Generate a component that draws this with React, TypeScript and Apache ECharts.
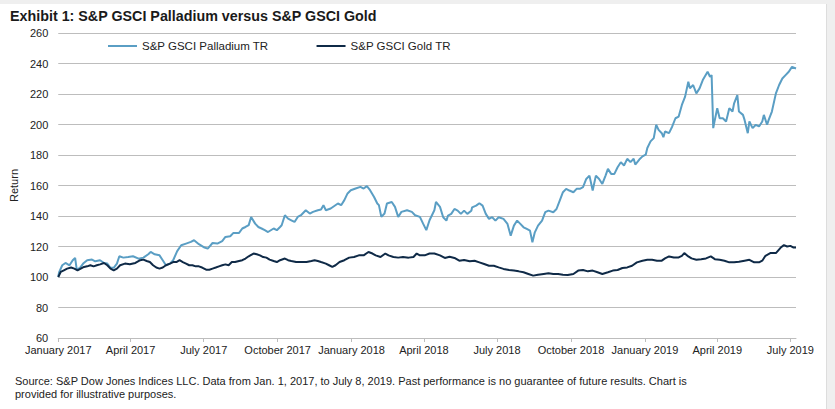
import React, { useEffect, useRef } from "react";
import * as echarts from "echarts";

const titleText = "Exhibit 1: S&P GSCI Palladium versus S&P GSCI Gold";
const sourceLines = [
  "Source: S&P Dow Jones Indices LLC. Data from Jan. 1, 2017, to July 8, 2019. Past performance is no guarantee of future results. Chart is",
  "provided for illustrative purposes.",
];
const seriesNames = ["S&P GSCI Palladium TR", "S&P GSCI Gold TR"];

// x axis: days since 2017-01-01
const startDate = "2017-01-01";
const endDate = "2019-07-08";
const tickDates = [
  "2017-01-01", "2017-04-01", "2017-07-01", "2017-10-01", "2018-01-01", "2018-04-01",
  "2018-07-01", "2018-10-01", "2019-01-01", "2019-04-01", "2019-07-01",
];
const tickLabels = [
  "January 2017", "April 2017", "July 2017", "October 2017", "January 2018", "April 2018",
  "July 2018", "October 2018", "January 2019", "April 2019", "July 2019",
];

const palladiumDays = [
  0, 1, 5, 9, 14, 18, 21, 23, 27, 31,
  36, 42, 46, 52, 57, 61, 65, 69, 73, 76,
  81, 87, 93, 100, 106, 112, 115, 120, 126, 130,
  134, 139, 143, 148, 153, 159, 165, 169, 175, 182,
  186, 192, 198, 204, 208, 214, 218, 225, 229, 233,
  237, 240, 245, 249, 253, 257, 261, 268, 272, 276,
  278, 282, 286, 290, 294, 298, 302, 308, 313, 317,
  323, 327, 330, 333, 339, 348, 352, 356, 360, 364,
  370, 376, 380, 384, 388, 393, 397, 399, 402, 406,
  409, 415, 419, 423, 427, 434, 440, 444, 450, 454,
  458, 462, 468, 470, 475, 479, 483, 485, 489, 493,
  497, 501, 505, 509, 514, 515, 520, 524, 528, 532,
  536, 540, 544, 548, 554, 559, 563, 567, 571, 575,
  579, 583, 587, 590, 593, 597, 602, 606, 610, 616,
  620, 624, 628, 632, 636, 641, 645, 649, 653, 657,
  661, 665, 669, 673, 677, 681, 684, 688, 692, 696,
  700, 704, 708, 712, 716, 718, 723, 727, 731, 733,
  737, 741, 744, 747, 751, 753, 755, 760, 764, 768,
  772, 776, 780, 784, 786, 790, 794, 798, 802, 808,
  811, 813, 815, 817, 820, 823, 827, 831, 835, 839,
  841, 845, 847, 852, 854, 858, 860, 864, 868, 872,
  876, 878, 882, 884, 888, 893, 897, 901, 905, 909,
  913, 918,
];
const palladiumValues = [
  100, 103, 107.7, 109.2, 107.7, 111, 112.5, 104.8, 106, 108.8,
  111, 111.4, 110.3, 111, 109.2, 108.8, 106, 106, 108.8, 113.6,
  112.7, 113.1, 113.6, 112, 112.7, 114.9, 116.4, 114.9, 114.2, 111,
  107.7, 108.8, 111, 117, 120.8, 121.9, 123, 124.1, 121.5, 119.3,
  118.6, 122.3, 121.9, 123.6, 126.3, 126.7, 128.9, 128.9, 131.8, 132.8,
  134, 139.4, 135, 132.8, 131.8, 130.7, 129.5, 131.8, 130.7, 132.8,
  133.9, 140.5, 138.3, 137.2, 136.1, 139.4, 140.5, 143.8, 141.6, 142.7,
  143.8, 144.2, 147.1, 143.8, 144.9, 148.2, 147.1, 150.4, 154.8, 156.9,
  158, 159.1, 158, 159.6, 156.9, 152.5, 148.2, 147.1, 139.4, 141.6,
  148.2, 149.2, 146, 139.4, 142.7, 143.8, 142.7, 140.5, 139.4, 135,
  130.7, 137.2, 143.8, 149.2, 146, 139.2, 137, 140.3, 141.4, 144.6,
  143.5, 141.4, 143.5, 141.4, 143.5, 145.7, 146.8, 148.4, 146.8, 141.4,
  138.1, 139.2, 137, 139.2, 138.1, 134.8, 127.1, 133.7, 137, 134.8,
  132.6, 131.5, 130.4, 122.8, 129.3, 133.7, 137, 142.5, 143.5, 142.5,
  144.6, 150.1, 155.6, 157.8, 156.7, 155.6, 157.8, 157.8, 158.9, 164.3,
  166.5, 156.7, 166.5, 164.3, 161, 166.5, 170.9, 167.6, 167.6, 172,
  175.3, 173.1, 177.5, 175.3, 177.5, 173.7, 177, 179.1, 180.2, 184.6,
  188.9, 191.1, 199.8, 196.5, 194.3, 191.7, 195.4, 194.3, 198.7, 204.1,
  205.2, 212.8, 218.3, 228, 223.7, 225.9, 220.4, 223.7, 229.1, 234.6,
  231.3, 232.4, 197.6, 203, 210.7, 204.1, 204.1, 202, 210.7, 208.5,
  213.9, 219.3, 208.5, 206.3, 203, 194.3, 202, 197.6, 199.8, 198.7,
  202, 206.3, 199.8, 203, 208.5, 220.4, 225.9, 230.2, 232.4, 234.6,
  237.8, 236.7,
];

const goldDays = [
  0, 3, 7, 11, 16, 20, 24, 28, 32, 36,
  40, 44, 48, 52, 57, 61, 65, 69, 73, 77,
  83, 89, 96, 102, 106, 110, 114, 118, 122, 126,
  130, 134, 139, 143, 147, 151, 155, 159, 163, 167,
  171, 175, 179, 184, 188, 192, 196, 200, 204, 208,
  212, 216, 220, 225, 229, 233, 237, 239, 243, 247,
  251, 255, 259, 263, 268, 272, 276, 282, 286, 290,
  296, 302, 309, 315, 319, 323, 327, 333, 337, 341,
  345, 350, 356, 362, 368, 374, 380, 386, 391, 395,
  401, 407, 411, 417, 423, 429, 436, 442, 446, 450,
  456, 462, 468, 475, 481, 487, 493, 499, 505, 512,
  518, 524, 530, 536, 542, 548, 554, 561, 567, 573,
  579, 585, 591, 597, 604, 610, 616, 622, 628, 634,
  641, 647, 653, 659, 665, 671, 677, 684, 690, 696,
  702, 708, 714, 720, 727, 733, 739, 745, 751, 755,
  760, 766, 772, 776, 779, 784, 788, 794, 800, 806,
  812, 817, 823, 829, 835, 841, 847, 854, 860, 866,
  872, 876, 880, 886, 893, 899, 903, 907, 911, 915,
  918,
];
const goldValues = [
  100, 103.3, 104.4, 105.5, 106.2, 105.5, 104.4, 105.5, 106.6, 107,
  107.7, 107, 107.7, 108.3, 109.2, 107.7, 105.5, 104.4, 105.5, 107.7,
  108.8, 108.3, 109.2, 111, 111.4, 110.5, 109.8, 107.7, 106.2, 105.5,
  106.2, 107.7, 108.8, 109.8, 109.8, 111, 109.8, 108.8, 107.7, 107.7,
  107, 107, 106.2, 104.8, 104.8, 105.5, 106.2, 107, 107.7, 108.3,
  107.7, 109.8, 109.8, 110.5, 111, 112.1, 113.6, 114.2, 115.4, 114.9,
  114.2, 113.1, 112.7, 111.4, 110.5, 109.8, 111, 112.1, 111, 110.5,
  109.8, 109.8, 109.8, 110.5, 111, 110.5, 109.8, 108.8, 107.7, 106.6,
  107.7, 109.8, 111, 112.7, 113.1, 114.2, 114.2, 116.4, 115.4, 114.2,
  113.1, 115.4, 114.2, 113.1, 112.7, 113.1, 112.7, 113.1, 115.4, 114.2,
  114.2, 115.4, 115.4, 114.2, 112.5, 113.3, 112.5, 110.7, 111.2, 110.3,
  110.7, 109.6, 108.5, 107.4, 107.4, 106.3, 105.3, 104.6, 104.2, 103.7,
  103.1, 102, 100.9, 101.5, 102, 102.4, 102, 102, 101.5, 101.3,
  102, 104.2, 104.6, 103.7, 104.2, 103.1, 102, 103.1, 104.2, 104.6,
  105.9, 106.3, 107.4, 109.6, 110.7, 111.3, 111.3, 110.7, 110.7, 112.2,
  113.5, 112.8, 112.8, 113.9, 115.7, 113.5, 112.2, 111.3, 111.7, 112.2,
  113.5, 111.7, 111.3, 110.7, 109.6, 109.6, 110, 110.7, 111.3, 109.6,
  109.6, 110.7, 113.9, 115.7, 115.7, 119.3, 120.9, 120, 120.4, 119.3,
  119.3,
];

const yMin = 60;
const yMax = 260;
const yStep = 20;

const FONT = "'Liberation Sans', Arial, Helvetica, sans-serif";

function dayOf(dateStr: string): number {
  const [y, m, d] = dateStr.split("-").map(Number);
  const [y0, m0, d0] = startDate.split("-").map(Number);
  return Math.round((Date.UTC(y, m - 1, d) - Date.UTC(y0, m0 - 1, d0)) / 86400000);
}

export default function App() {
  const ref = useRef<HTMLDivElement>(null);

  useEffect(() => {
    if (!ref.current) return;
    const chart = echarts.init(ref.current, undefined, { renderer: "svg" });
    const tickDays = tickDates.map(dayOf);
    const labelByDay = new Map<number, string>();
    tickDays.forEach((d, i) => labelByDay.set(d, tickLabels[i]));

    chart.setOption({
      animation: false,
      backgroundColor: "transparent",
      title: {
        text: titleText,
        left: 10,
        top: 9,
        padding: 0,
        textStyle: { fontFamily: FONT, fontSize: 14.3, fontWeight: "bold", color: "#1a1a1a" },
      },
      legend: {
        left: 108,
        top: 40,
        padding: 0,
        itemGap: 48,
        itemWidth: 29,
        itemHeight: 2,
        icon: "rect",
        textStyle: { fontFamily: FONT, fontSize: 11.5, color: "#222" },
        data: seriesNames,
      },
      grid: { left: 49, top: 33, width: 747, height: 305, containLabel: false },
      xAxis: {
        type: "value",
        min: dayOf(startDate),
        max: dayOf(endDate),
        splitLine: { show: false },
        axisLine: { show: true, lineStyle: { color: "#bdbdbd", width: 1 } },
        axisTick: { show: true, length: 4, lineStyle: { color: "#bdbdbd" }, customValues: tickDays },
        axisLabel: {
          customValues: tickDays,
          margin: 6,
          fontFamily: FONT,
          fontSize: 11,
          color: "#222",
          formatter: (v: number) => labelByDay.get(Math.round(v)) ?? "",
        },
      },
      yAxis: {
        type: "value",
        min: yMin,
        max: yMax,
        interval: yStep,
        name: "Return",
        nameLocation: "middle",
        nameRotate: 90,
        nameGap: 32,
        nameTextStyle: { fontFamily: FONT, fontSize: 11, color: "#222" },
        axisLine: { show: false },
        axisTick: { show: false },
        axisLabel: { margin: 10, fontFamily: FONT, fontSize: 11, color: "#222" },
        splitLine: { show: true, lineStyle: { color: "#bdbdbd", width: 1 } },
      },
      series: [
        {
          name: seriesNames[0],
          type: "line",
          showSymbol: false,
          symbol: "none",
          color: "#5a9ec4",
          lineStyle: { width: 2, color: "#5a9ec4" },
          data: palladiumDays.map((d, i) => [d, palladiumValues[i]]),
        },
        {
          name: seriesNames[1],
          type: "line",
          showSymbol: false,
          symbol: "none",
          color: "#0f2a47",
          lineStyle: { width: 2, color: "#0f2a47" },
          data: goldDays.map((d, i) => [d, goldValues[i]]),
        },
      ],
      graphic: sourceLines.map((t, i) => ({
        type: "text",
        left: 15,
        top: 375 + i * 13,
        style: { text: t, fontFamily: FONT, fontSize: 11, fill: "#222" },
      })),
    });

    return () => chart.dispose();
  }, []);

  return (
    <div style={{ position: "fixed", left: 0, top: 0, width: 835, height: 409, background: "#efefef" }}>
      <div
        style={{
          position: "absolute",
          left: 0,
          top: 4,
          width: 826,
          height: 405,
          background: "#ffffff",
          borderRight: "1px solid #dddddd",
        }}
      />
      <div ref={ref} style={{ position: "absolute", left: 0, top: 0, width: 835, height: 409 }} />
    </div>
  );
}
